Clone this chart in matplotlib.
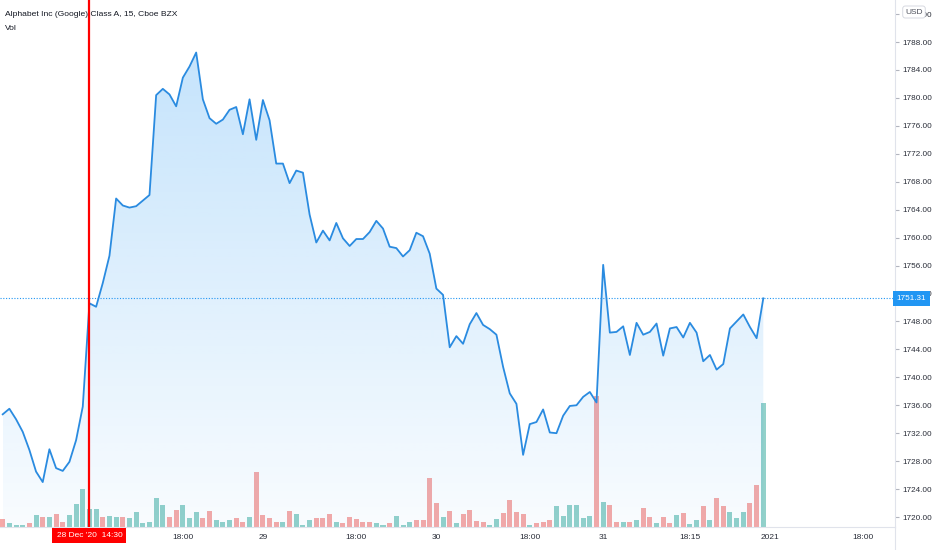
import numpy as np
import matplotlib.pyplot as plt
import matplotlib.transforms as mtransforms

plt.rcParams['font.family'] = ['Liberation Sans', 'DejaVu Sans']

# 15 min closes, Alphabet Inc (Google) Class A, Cboe BZX
price = [1734.7, 1735.5, 1734.0, 1732.2, 1729.6, 1726.5, 1725.0, 1729.7, 1727.0, 1726.6,
         1727.9, 1731.0, 1735.8, 1750.6, 1750.1, 1753.5, 1757.4, 1765.6, 1764.6, 1764.3,
         1764.5, 1765.3, 1766.1, 1780.4, 1781.3, 1780.5, 1778.8, 1782.9, 1784.5, 1786.5,
         1779.8, 1777.1, 1776.3, 1776.9, 1778.3, 1778.7, 1774.8, 1779.8, 1774.0, 1779.7,
         1776.8, 1770.6, 1770.6, 1767.8, 1769.6, 1769.3, 1763.3, 1759.3, 1761.0, 1759.6,
         1762.1, 1759.9, 1758.8, 1759.8, 1759.8, 1760.8, 1762.4, 1761.3, 1758.7, 1758.5,
         1757.3, 1758.2, 1760.7, 1760.2, 1757.7, 1752.7, 1751.8, 1744.3, 1745.9, 1744.8,
         1747.6, 1749.2, 1747.5, 1746.9, 1746.1, 1741.5, 1737.7, 1736.2, 1728.9, 1733.3,
         1733.6, 1735.4, 1732.1, 1732.0, 1734.5, 1735.9, 1736.0, 1737.2, 1737.9, 1736.4,
         1756.1, 1746.4, 1746.5, 1747.3, 1743.2, 1747.8, 1746.1, 1746.5, 1747.7, 1743.1,
         1747.0, 1747.2, 1745.7, 1747.8, 1746.4, 1742.3, 1743.2, 1741.1, 1741.9, 1747.0,
         1748.0, 1749.0, 1747.2, 1745.6, 1751.31]

volume = [8, 4.3, 2.3, 2.3, 4.3, 12, 9.7, 10.3, 13, 5,
          12, 23.3, 38, 18, 18, 10.3, 11.3, 9.7, 10.3, 8.7,
          14.7, 4.3, 5.3, 28.7, 22.3, 10.3, 16.7, 22.3, 8.7, 14.7,
          8.7, 16.3, 7, 5, 7, 9.3, 5, 10.3, 55, 12,
          8.7, 5, 5, 16.3, 13, 2.3, 7, 9, 9, 13,
          4.7, 4, 10.3, 8, 5, 5, 4, 2.3, 4, 11.3,
          2.3, 5, 7, 7, 49, 24, 10.3, 15.7, 4, 13,
          17.3, 6.3, 5, 2.3, 8, 14, 26.7, 14.7, 13, 2.3,
          4, 5, 7, 20.7, 11.3, 22.3, 22.3, 8.7, 11.3, 131,
          25, 22.3, 5, 5, 5, 7, 19, 10.3, 4.3, 9.7,
          4.3, 12, 14, 2.7, 7, 21, 7, 28.7, 21, 15,
          9, 15, 24.3, 41.7, 124.3]

# g = up bar, r = down bar
vol_dir = ('rgggrgrgrr' 'gggggrggrg' 'gggggrrggg' 'rrgggrrgrr'
           'rrgrgggrrr' 'grrrrrggrg' 'ggrrrrgrgr' 'rrrggrrrrg'
           'rrrggggggr' 'grrgrgrrgr' 'rgrggrgrrg' 'ggrrg')

tick_idx = [27, 39, 53, 65, 79, 90, 103, 115, 129]
tick_lbl = ['18:00', '29', '18:00', '30', '18:00', '31', '18:15', '2021', '18:00']
price_ticks = np.arange(1720, 1793, 4)

last = price[-1]
cross_idx = 13

x = np.arange(len(price))
ylo, yhi = 1718.57, 1794.02

fig = plt.figure(figsize=(9.32, 5.5), dpi=100)
ax = fig.add_axes([0, 23 / 550, 895 / 932, 527 / 550])
axv = ax.twinx()
ax.set_zorder(axv.get_zorder() + 1)
ax.patch.set_visible(False)

# volume overlay
cols = {'g': '#93d1ca', 'r': '#f6a9a7'}
axv.bar(x, volume, width=0.75, color=[cols[c] for c in vol_dir], zorder=2)
axv.set_ylim(0, 527)
axv.set_yticks([])
for s in axv.spines.values():
    s.set_visible(False)

# area fill with vertical gradient
poly = ax.fill_between(x, price, ylo, color='none', lw=0)
grad = np.zeros((256, 1, 4))
grad[:, 0, 0] = 33 / 255
grad[:, 0, 1] = 150 / 255
grad[:, 0, 2] = 243 / 255
grad[:, 0, 3] = np.linspace(0.03, 0.26, 256)
im = ax.imshow(grad, extent=[x[0], x[-1], ylo, max(price)], origin='lower',
               aspect='auto', zorder=1, interpolation='bilinear')
im.set_clip_path(poly.get_paths()[0], transform=ax.transData)

ax.plot(x, price, color='#2a8be0', lw=1.3, zorder=4)
ax.axhline(last, color='#2196f3', lw=0.8, ls=(0, (1, 1.5)), zorder=3)
ax.axvline(cross_idx, color='#ff0000', lw=1.6, zorder=5)

ax.set_xlim(-0.405, 133.74)
ax.set_ylim(ylo, yhi)

ax.yaxis.tick_right()
ax.set_yticks(price_ticks)
ax.set_yticklabels(['%.2f' % v for v in price_ticks])
ax.tick_params(axis='y', length=3, color='#b2b5be', pad=2, labelsize=5.9,
               labelcolor='#2a2e39')
ax.set_xticks(tick_idx)
ax.set_xticklabels(tick_lbl)
ax.tick_params(axis='x', length=0, pad=5, labelsize=6, labelcolor='#2a2e39')

for side in ['top', 'left']:
    ax.spines[side].set_visible(False)
ax.spines['right'].set_color('#e0e3eb')
ax.spines['bottom'].set_color('#e0e3eb')
fig.add_artist(plt.Line2D([895 / 932, 895 / 932], [0, 23 / 550],
                          color='#e0e3eb', lw=0.8, transform=fig.transFigure))

# labels on the scales
trans_y = mtransforms.blended_transform_factory(ax.transAxes, ax.transData)
ax.text(1.002, last, '%.2f' % last, transform=trans_y, ha='left', va='center',
        fontsize=5.9, color='white', zorder=10, clip_on=False,
        bbox=dict(boxstyle='square,pad=0.45', fc='#2196f3', ec='none'))

trans_x = mtransforms.blended_transform_factory(ax.transData, fig.transFigure)
ax.text(cross_idx, 1 - 535.5 / 550, "28 Dec '20  14:30", transform=trans_x,
        ha='center', va='center', fontsize=6, color='white', zorder=10,
        clip_on=False, bbox=dict(boxstyle='square,pad=0.5', fc='#ff0000', ec='none'))

fig.text(914 / 932, 1 - 12 / 550, 'USD', ha='center', va='center', fontsize=6,
         color='#50535e', zorder=10,
         bbox=dict(boxstyle='round,pad=0.3,rounding_size=0.3', fc='white', ec='#d1d4dc', lw=0.6))

fig.text(5 / 932, 1 - 14 / 550, 'Alphabet Inc (Google) Class A, 15, Cboe BZX',
         ha='left', va='center', fontsize=6.1, color='#131722')
fig.text(5 / 932, 1 - 29 / 550, 'Vol', ha='left', va='center', fontsize=6.1,
         color='#131722')

fig.savefig('out.png', dpi=100)
